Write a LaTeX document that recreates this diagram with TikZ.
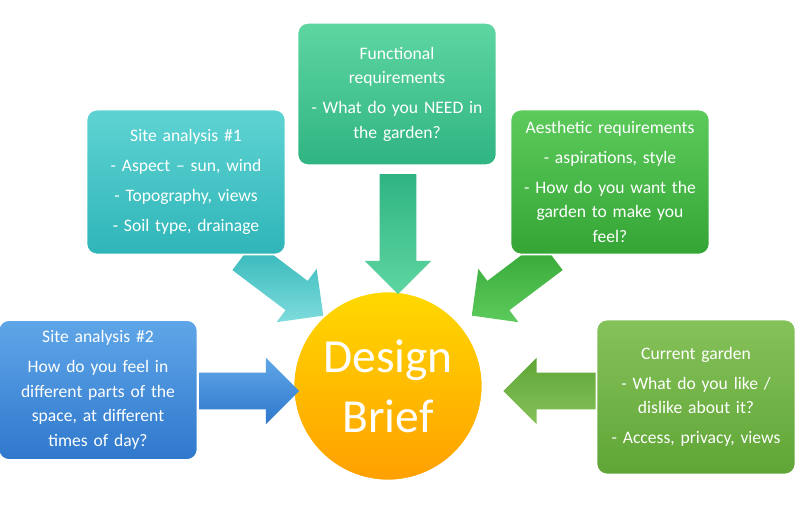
\documentclass[tikz,border=0pt]{standalone}
\usepackage{fontspec}
\setmainfont{Carlito}
\usetikzlibrary{shapes.arrows,positioning}
\definecolor{cyanA}{HTML}{5FD3D3}
\definecolor{cyanB}{HTML}{2FB5B8}
\definecolor{tealA}{HTML}{5ED6A2}
\definecolor{tealB}{HTML}{2FB482}
\definecolor{grnA}{HTML}{5CCB5C}
\definecolor{grnB}{HTML}{34A535}
\definecolor{bluA}{HTML}{5FA6E8}
\definecolor{bluB}{HTML}{2F78CC}
\definecolor{olvA}{HTML}{86C25A}
\definecolor{olvB}{HTML}{5FA536}
\tikzset{
  box/.style={rounded corners=6pt, minimum width=3.8cm, text width=3.75cm, align=center,
    text=white, font=\fontsize{10}{14}\selectfont, draw=white, line width=1pt},
  blk/.style={shape=single arrow, single arrow head extend=0.3cm, inner xsep=0pt,
    inner ysep=0.36cm, minimum height=2cm, draw=none, shading=axis, shading angle=0},
}
\begin{document}
\begin{tikzpicture}[x=0.02cm,y=-0.02cm]
  \useasboundingbox (0,0) rectangle (800,521);
  \fill[white] (0,0) rectangle (800,521);
  % circle
  \node (brief) [circle, minimum size=3.8cm, draw=white, line width=1.5pt,
    top color=yellow!70!orange, bottom color=orange!75!yellow,
    text=white, align=center, font=\fontsize{27}{34}\selectfont] at (388,386) {Design\\Brief};
  % block arrows
  \node (a1) [blk, rotate=-37, top color=cyanB, bottom color=cyanA!80] at (276,280) {};
  \node (a2) [blk, rotate=-90, minimum height=2.4cm, top color=tealB, bottom color=tealA] at (398,225) {};
  \node (a3) [blk, rotate=-143, top color=grnB, bottom color=grnA] at (519,280) {};
  \node (a4) [blk, rotate=0, top color=bluA, bottom color=bluB] at (240,391) {};
  \node (a5) [blk, rotate=180, minimum height=1.9cm, top color=olvB, bottom color=olvA] at (560,391) {};
  % boxes
  \node (sa1) [box, minimum height=2.9cm, top color=cyanA, bottom color=cyanB] at (186,182)
    {Site analysis \#1\\[3pt]- Aspect -- sun, wind\\[3pt]- Topography, views\\[3pt]- Soil type, drainage};
  \node (fun) [box, minimum height=2.85cm, top color=tealA, bottom color=tealB] at (397,94)
    {Functional\\requirements\\[3pt]- What do you NEED in\\the garden?};
  \node (aes) [box, minimum height=2.9cm, top color=grnA, bottom color=grnB] at (610,182)
    {Aesthetic requirements\\[3pt]- aspirations, style\\[3pt]- How do you want the\\garden to make you\\feel?};
  \node (sa2) [box, minimum height=2.8cm, top color=bluA, bottom color=bluB] at (98,390)
    {Site analysis \#2\\[3pt]How do you feel in\\different parts of the\\space, at different\\times of day?};
  \node (cur) [box, minimum height=3.1cm, top color=olvA, bottom color=olvB] at (696,397)
    {Current garden\\[3pt]- What do you like /\\dislike about it?\\[3pt]- Access, privacy, views};
\end{tikzpicture}
\end{document}
